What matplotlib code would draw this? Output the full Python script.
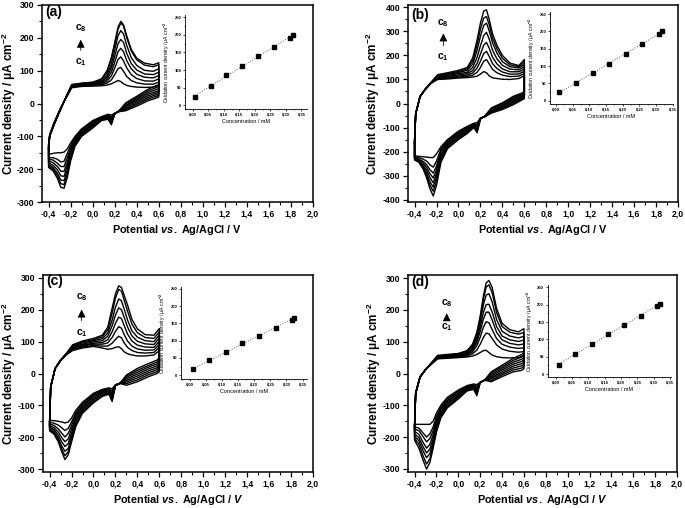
import numpy as np
import matplotlib.pyplot as plt
from matplotlib.ticker import MultipleLocator, FuncFormatter

plt.rcParams.update({
    "font.family": "Liberation Sans",
    "font.weight": "bold",
    "axes.unicode_minus": False,
    "mathtext.fontset": "custom",
    "mathtext.rm": "Liberation Sans:bold",
    "mathtext.bf": "Liberation Sans:bold",
    "mathtext.it": "Liberation Sans:italic:bold",
    "mathtext.bfit": "Liberation Sans:italic:bold",
    "mathtext.default": "rm",
})

W, H = 685, 508

# potentials of the read points (V) on the forward and reverse sweeps
E_FWD = [-0.40, -0.39, -0.35, -0.30, -0.25, -0.19, -0.10, 0.00, 0.08, 0.13, 0.17,
         0.20, 0.23, 0.255, 0.28, 0.31, 0.35, 0.40, 0.47, 0.55, 0.60]
E_REV = [0.60, 0.58, 0.50, 0.40, 0.30, 0.24, 0.20, 0.17, 0.14, 0.08, 0.00,
         -0.10, -0.16, -0.20, -0.23, -0.26, -0.29, -0.32, -0.36, -0.40]

# ---- panel (a): current density, c1 .. c8
A_FWD = [
    [-125, -95, -58, -20, 12, 48, 52, 53, 54, 56, 60, 65, 70, 67, 60, 55, 52, 50, 49, 50, 55],
    [-127, -96, -59, -21, 12, 50, 54, 55, 57, 62, 72, 88, 106, 110, 98, 82, 70, 63, 59, 59, 65],
    [-129, -97, -60, -22, 13, 51, 55, 57, 59, 68, 84, 108, 134, 142, 130, 108, 88, 76, 69, 68, 75],
    [-131, -97, -61, -22, 13, 52, 57, 59, 62, 74, 96, 126, 158, 168, 158, 130, 106, 89, 80, 78, 85],
    [-133, -98, -62, -23, 13, 54, 58, 60, 65, 80, 108, 144, 182, 195, 186, 152, 122, 102, 90, 88, 95],
    [-135, -98, -63, -24, 14, 55, 59, 62, 68, 86, 120, 162, 206, 222, 212, 176, 140, 116, 101, 98, 106],
    [-137, -99, -64, -24, 14, 57, 61, 64, 72, 95, 135, 180, 226, 245, 236, 200, 160, 133, 117, 112, 118],
    [-139, -100, -65, -25, 14, 58, 62, 65, 75, 100, 140, 185, 232, 250, 240, 205, 165, 138, 123, 118, 124],
]
A_REV = [
    [20, 17, 8, -8, -22, -25, -30, -35, -33, -40, -52, -77, -100, -120, -138, -148, -150, -150, -152, -155],
    [25, 22, 13, -3, -19, -24, -30, -40, -35, -42, -55, -80, -104, -128, -152, -176, -178, -170, -165, -165],
    [30, 27, 18, 1, -16, -24, -30, -44, -37, -44, -58, -83, -108, -136, -165, -192, -192, -182, -172, -170],
    [35, 32, 23, 6, -12, -23, -31, -48, -39, -45, -61, -86, -112, -143, -178, -207, -206, -192, -180, -175],
    [40, 37, 28, 10, -8, -23, -31, -52, -41, -47, -64, -90, -116, -150, -190, -222, -220, -202, -188, -180],
    [46, 43, 33, 14, -5, -22, -31, -56, -43, -48, -67, -93, -120, -157, -202, -235, -233, -212, -195, -185],
    [52, 49, 38, 18, -1, -22, -32, -61, -46, -50, -71, -97, -125, -165, -214, -247, -244, -220, -200, -190],
    [58, 55, 43, 22, 2, -22, -32, -65, -48, -52, -75, -100, -130, -175, -225, -258, -255, -228, -205, -195],
]
A_CONC = [0.008, 0.058, 0.108, 0.158, 0.210, 0.262, 0.313, 0.324]
A_OX = [25, 55, 85, 112, 141, 165, 192, 199]

# ---- panel (b)
B_FWD = [
    [-150, -40, 28, 60, 84, 100, 102, 106, 108, 110, 114, 122, 133, 128, 115, 107, 104, 101, 100, 104, 116],
    [-153, -41, 28, 60, 85, 103, 106, 110, 113, 118, 130, 150, 176, 183, 165, 142, 128, 118, 112, 114, 125],
    [-156, -42, 29, 60, 85, 106, 109, 114, 118, 127, 148, 176, 208, 217, 196, 166, 146, 131, 122, 123, 134],
    [-159, -42, 29, 61, 86, 109, 113, 119, 124, 137, 167, 206, 243, 254, 230, 193, 165, 144, 132, 132, 143],
    [-162, -43, 29, 61, 86, 112, 117, 124, 130, 150, 193, 240, 283, 296, 268, 222, 186, 159, 143, 140, 153],
    [-164, -44, 30, 61, 87, 114, 121, 129, 138, 165, 222, 280, 325, 335, 302, 253, 210, 174, 153, 148, 162],
    [-167, -44, 30, 62, 87, 117, 124, 133, 144, 178, 245, 310, 356, 362, 328, 272, 228, 188, 161, 153, 172],
    [-170, -45, 30, 62, 88, 120, 128, 138, 150, 190, 265, 335, 385, 390, 350, 290, 243, 200, 168, 158, 183],
]
B_REV = [
    [20, 15, -5, -25, -40, -55, -60, -80, -82, -95, -115, -150, -180, -210, -225, -225, -223, -222, -220, -218],
    [24, 19, 0, -21, -37, -55, -61, -86, -85, -99, -120, -155, -189, -240, -265, -255, -240, -232, -226, -222],
    [29, 23, 5, -17, -34, -54, -61, -92, -87, -103, -125, -160, -198, -260, -290, -275, -255, -242, -232, -225],
    [33, 27, 10, -13, -31, -54, -62, -98, -90, -107, -130, -165, -207, -275, -310, -292, -266, -250, -236, -227],
    [37, 31, 15, -9, -28, -53, -63, -104, -93, -112, -135, -171, -217, -290, -330, -308, -278, -258, -240, -229],
    [41, 36, 20, -5, -24, -53, -63, -110, -95, -116, -140, -177, -226, -305, -348, -325, -290, -265, -242, -231],
    [46, 40, 25, -1, -21, -52, -64, -116, -98, -120, -145, -182, -235, -322, -365, -340, -300, -270, -244, -233],
    [50, 44, 30, 3, -18, -52, -65, -122, -100, -125, -150, -188, -245, -340, -385, -355, -310, -275, -245, -235],
]
B_CONC = [0.010, 0.060, 0.110, 0.159, 0.210, 0.258, 0.308, 0.318]
B_OX = [25, 51, 79, 107, 135, 164, 192, 200]

# ---- panel (c)
C_FWD = [
    [-150, -40, 15, 40, 58, 72, 80, 85, 80, 76, 78, 82, 84, 78, 68, 62, 58, 55, 55, 58, 72],
    [-152, -41, 15, 40, 59, 75, 83, 88, 86, 86, 95, 107, 117, 112, 96, 82, 72, 66, 64, 66, 82],
    [-154, -41, 15, 41, 59, 78, 86, 92, 92, 96, 113, 132, 147, 142, 122, 102, 86, 77, 73, 74, 91],
    [-156, -42, 15, 41, 60, 80, 89, 95, 97, 106, 131, 157, 177, 172, 150, 124, 102, 89, 83, 82, 101],
    [-159, -43, 16, 41, 60, 83, 92, 99, 103, 117, 150, 183, 206, 200, 176, 146, 118, 101, 93, 91, 111],
    [-161, -43, 16, 42, 61, 85, 96, 103, 109, 127, 168, 208, 234, 228, 202, 168, 134, 114, 103, 100, 121],
    [-163, -44, 16, 42, 61, 88, 99, 106, 115, 138, 190, 236, 264, 258, 230, 196, 155, 128, 113, 110, 131],
    [-165, -45, 16, 42, 62, 90, 102, 110, 120, 145, 205, 250, 275, 270, 245, 215, 170, 140, 122, 120, 141],
]
C_REV = [
    [8, 0, -10, -26, -37, -31, -35, -48, -45, -50, -62, -90, -115, -140, -152, -155, -152, -150, -148, -147],
    [14, 6, -4, -20, -32, -31, -36, -54, -48, -53, -66, -95, -122, -152, -172, -179, -170, -162, -156, -153],
    [20, 12, 2, -14, -27, -31, -36, -60, -51, -56, -70, -100, -128, -163, -188, -199, -187, -174, -163, -158],
    [26, 18, 8, -8, -22, -31, -37, -66, -54, -59, -74, -105, -135, -175, -205, -214, -201, -184, -170, -163],
    [32, 24, 14, -2, -17, -31, -37, -72, -57, -62, -79, -110, -142, -187, -220, -229, -214, -194, -176, -168],
    [38, 30, 20, 4, -12, -31, -38, -78, -59, -66, -83, -115, -150, -199, -235, -244, -227, -203, -182, -172],
    [44, 36, 25, 10, -8, -31, -38, -83, -62, -69, -88, -120, -157, -207, -245, -258, -236, -209, -186, -176],
    [50, 42, 31, 16, -5, -31, -38, -88, -65, -72, -92, -125, -165, -215, -255, -270, -245, -215, -190, -180],
]
C_CONC = [0.008, 0.060, 0.111, 0.163, 0.214, 0.266, 0.316, 0.324]
C_OX = [17, 43, 67, 92, 114, 137, 161, 166]

# ---- panel (d)
D_FWD = [
    [-160, -60, -10, 12, 28, 46, 48, 50, 52, 55, 60, 66, 72, 73, 66, 58, 53, 50, 49, 50, 57],
    [-162, -61, -10, 12, 29, 48, 50, 52, 55, 62, 74, 92, 114, 127, 125, 110, 90, 77, 70, 67, 69],
    [-164, -61, -10, 12, 29, 49, 52, 54, 58, 68, 88, 114, 146, 163, 160, 138, 110, 92, 83, 79, 81],
    [-166, -62, -11, 12, 30, 51, 53, 56, 61, 73, 98, 132, 172, 193, 193, 168, 130, 106, 95, 90, 93],
    [-168, -63, -11, 12, 30, 52, 55, 58, 64, 78, 107, 147, 193, 217, 218, 193, 148, 118, 106, 101, 105],
    [-171, -63, -11, 12, 31, 54, 57, 60, 67, 83, 116, 162, 217, 247, 251, 225, 170, 133, 118, 112, 117],
    [-173, -64, -12, 12, 31, 55, 58, 62, 70, 88, 125, 173, 235, 272, 279, 254, 192, 148, 130, 124, 129],
    [-175, -65, -12, 12, 32, 57, 60, 63, 72, 92, 130, 180, 245, 285, 293, 270, 205, 158, 138, 131, 141],
]
D_REV = [
    [15, 10, 5, -10, -26, -21, -28, -35, -33, -38, -52, -75, -100, -125, -150, -160, -160, -160, -160, -160],
    [22, 17, 11, -5, -22, -21, -28, -40, -36, -40, -56, -80, -106, -135, -168, -190, -200, -188, -172, -168],
    [29, 24, 17, 0, -17, -21, -28, -45, -38, -42, -60, -85, -111, -143, -180, -205, -215, -200, -180, -175],
    [36, 31, 23, 5, -13, -21, -28, -50, -40, -45, -64, -89, -117, -152, -193, -223, -235, -218, -192, -182],
    [43, 38, 29, 11, -9, -21, -28, -55, -43, -48, -68, -94, -123, -161, -205, -238, -250, -232, -202, -190],
    [50, 45, 35, 16, -4, -21, -28, -60, -45, -50, -72, -99, -129, -169, -216, -252, -265, -245, -212, -197],
    [58, 52, 41, 21, 1, -21, -28, -65, -48, -53, -76, -104, -134, -177, -226, -268, -285, -261, -223, -204],
    [66, 60, 47, 26, 5, -21, -28, -70, -50, -55, -80, -108, -140, -185, -235, -280, -301, -275, -235, -210],
]
D_CONC = [0.010, 0.060, 0.110, 0.160, 0.210, 0.260, 0.310, 0.320]
D_OX = [26, 59, 87, 115, 142, 168, 197, 203]


def px_rect(left, top, right, bottom):
    return [left / W, 1 - bottom / H, (right - left) / W, (bottom - top) / H]


comma1 = FuncFormatter(lambda v, p: f"{v:.1f}".replace(".", ",").replace("-0,0", "0,0"))
comma2 = FuncFormatter(lambda v, p: f"{v:.2f}".replace(".", ",").replace("-0,00", "0,00"))
intfmt = FuncFormatter(lambda v, p: f"{v:.0f}")

panels = [
    dict(fwd=A_FWD, rev=A_REV, conc=A_CONC, ox=A_OX, lab="(a)", lab_y=0.964,
         rect=(42, 5, 313, 202), ylim=(-300, 300), ytop=300,
         inset=(185, 15, 306.7, 109.3), ixlim=(-0.025, 0.367), iylim=(-11, 256),
         arrow=(0.143, 0.883, 0.838, 0.756, 0.711), ylab_x=-0.089, vital=False),
    dict(fwd=B_FWD, rev=B_REV, conc=B_CONC, ox=B_OX, lab="(b)", lab_y=0.95,
         rect=(408, 5, 678, 202), ylim=(-410, 410), ytop=400,
         inset=(550, 12, 673, 104.3), ixlim=(-0.018, 0.351), iylim=(-10.4, 256),
         arrow=(0.131, 0.910, 0.870, 0.780, 0.738), ylab_x=-0.0945, vital=False),
    dict(fwd=C_FWD, rev=C_REV, conc=C_CONC, ox=C_OX, lab="(c)", lab_y=0.97,
         rect=(43, 275, 313, 472), ylim=(-309, 309), ytop=300,
         inset=(181, 287.3, 306.7, 379), ixlim=(-0.028, 0.363), iylim=(-10.7, 254),
         arrow=(0.143, 0.887, 0.839, 0.754, 0.703), ylab_x=-0.091, vital=True),
    dict(fwd=D_FWD, rev=D_REV, conc=D_CONC, ox=D_OX, lab="(d)", lab_y=0.964,
         rect=(408, 275, 677, 472), ylim=(-310, 310), ytop=300,
         inset=(547.7, 285, 670.7, 377.3), ixlim=(-0.0245, 0.352), iylim=(-9.5, 257),
         arrow=(0.144, 0.856, 0.820, 0.770, 0.734), ylab_x=-0.094, vital=True),
]

fig = plt.figure(figsize=(W / 100, H / 100), dpi=100)

for p in panels:
    ax = fig.add_axes(px_rect(*p["rect"]))
    for jf, jr in zip(p["fwd"], p["rev"]):
        e = np.concatenate([E_FWD, E_REV, [E_FWD[0]]])
        j = np.concatenate([jf, jr, [jf[0]]])
        ax.plot(e, j, color="black", lw=1.0)

    ax.set_xlim(-0.46, 2.0)
    ax.set_ylim(*p["ylim"])
    ax.xaxis.set_major_locator(MultipleLocator(0.2))
    ax.xaxis.set_minor_locator(MultipleLocator(0.1))
    ax.set_yticks(np.arange(-p["ytop"], p["ytop"] + 1, 100))
    ax.yaxis.set_minor_locator(MultipleLocator(50))
    ax.xaxis.set_major_formatter(comma1)
    ax.yaxis.set_major_formatter(intfmt)
    ax.tick_params(which="major", direction="out", length=3.5, width=0.9, labelsize=6.2, pad=2)
    ax.tick_params(which="minor", direction="out", length=2, width=0.8)
    for s in ax.spines.values():
        s.set_linewidth(1.1)

    ax.set_ylabel("Current density / μA cm$^{-2}$", fontsize=8.4, fontweight="bold")
    if p["vital"]:
        xl = r"Potential $\mathit{vs.}$ Ag/AgCl / $\mathit{V}$"
    else:
        xl = r"Potential $\mathit{vs.}$ Ag/AgCl / V"
    ax.set_xlabel(xl, fontsize=7.8, fontweight="bold")
    ax.yaxis.set_label_coords(p["ylab_x"], 0.5)
    ax.xaxis.set_label_coords(0.5, -0.107)

    ax.text(0.012, p["lab_y"], p["lab"], transform=ax.transAxes, fontsize=10,
            fontweight="bold", ha="left", va="center")

    ax_x, y8, yhead, ybot, y1 = p["arrow"]
    ax.text(ax_x, y8, "c$_8$", transform=ax.transAxes, fontsize=7.5, ha="center", va="center")
    ax.text(ax_x, y1, "c$_1$", transform=ax.transAxes, fontsize=7.5, ha="center", va="center")
    ax.annotate("", xy=(ax_x, yhead), xytext=(ax_x, ybot), xycoords="axes fraction",
                arrowprops=dict(arrowstyle="-|>", color="black", lw=0.6, mutation_scale=12))

    # inset calibration plot
    ia = fig.add_axes(px_rect(*p["inset"]))
    conc = np.array(p["conc"])
    ox = np.array(p["ox"])
    k, b0 = np.polyfit(conc, ox, 1)
    xs = np.array([conc.min(), conc.max()])
    ia.plot(xs, k * xs + b0, ls=":", color="0.35", lw=0.7)
    ia.plot(conc, ox, "s", color="black", ms=3.3)
    ia.set_xlim(*p["ixlim"])
    ia.set_ylim(*p["iylim"])
    ia.set_xticks(np.arange(0, 0.351, 0.05))
    ia.set_yticks(np.arange(0, 251, 50))
    ia.xaxis.set_minor_locator(MultipleLocator(0.025))
    ia.yaxis.set_minor_locator(MultipleLocator(25))
    ia.xaxis.set_major_formatter(comma2)
    ia.yaxis.set_major_formatter(intfmt)
    ia.spines["top"].set_visible(False)
    ia.spines["right"].set_visible(False)
    for s in ("left", "bottom"):
        ia.spines[s].set_linewidth(0.6)
    ia.tick_params(which="major", direction="out", length=1.6, width=0.5, labelsize=3, pad=1)
    ia.tick_params(which="minor", direction="out", length=0.9, width=0.4)
    ia.set_xlabel("Concentration / mM", fontsize=4.0, labelpad=1.5)
    ia.set_ylabel("Oxidation current density / μA cm$^{-2}$", fontsize=3.7, labelpad=1.5)

fig.savefig("out.png", dpi=100)
